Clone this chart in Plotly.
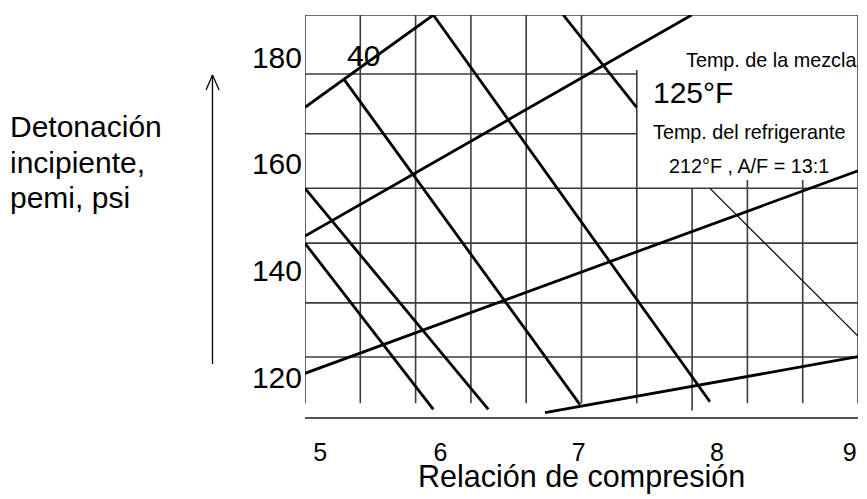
import plotly.graph_objects as go

# ---------------- data ----------------
X_RANGE = [5.0, 9.0]
Y_RANGE = [112.5, 187.875]

X_TICK_VALUES = [5, 6, 7, 8, 9]
X_TICK_TEXT = ["5", "6", "7", "8", "9"]
Y_TICK_VALUES = [120, 140, 160, 180]
Y_TICK_TEXT = ["120", "140", "160", "180"]

# grid (drawn chart lattice)
GRID_X = [5.0, 5.4, 5.8, 6.2, 6.6, 7.0, 7.4, 7.8, 8.2, 8.6, 9.0]
GRID_X_TOP = [187.875, 187.875, 187.875, 187.875, 187.875, 187.875,
              177.56, 155.4, 156.94, 156.94, 187.875]
GRID_X_BOTTOM = [115.1, 115.1, 115.1, 115.1, 115.1, 115.1, 115.1,
                 113.7, 115.1, 115.1, 115.1]
GRID_Y = [187.875, 176.8, 165.6, 155.4, 145.1, 133.9, 123.75]
GRID_Y_RIGHT = [9.0, 7.4, 7.4, 9.0, 9.0, 9.0, 9.0]

# curves (compression ratio, psi)
LINE_A_X = [5.0, 5.928]
LINE_A_Y = [170.57, 187.875]
LINE_B_X = [5.928, 7.929]
LINE_B_Y = [187.875, 115.37]
LINE_C_X = [5.277, 6.989]
LINE_C_Y = [176.0, 114.81]
LINE_D_X = [5.0, 6.326]
LINE_D_Y = [155.38, 113.94]
LINE_E_X = [5.0, 5.928]
LINE_E_Y = [145.07, 113.94]
LINE_F_X = [5.0, 7.797]
LINE_F_Y = [146.44, 187.875]
LINE_G_X = [5.0, 9.0]
LINE_G_Y = [120.69, 158.68]
LINE_H_X = [6.736, 9.0]
LINE_H_Y = [113.31, 123.81]
LINE_J_X = [6.868, 7.399]
LINE_J_Y = [187.875, 170.57]
THIN_LINE_X = [7.929, 9.0]
THIN_LINE_Y = [155.36, 127.69]

FONT = "Liberation Sans, Arial, Helvetica, sans-serif"
GRID_COLOR = "#3c3c3c"

fig = go.Figure()

thick_lines = [
    (LINE_A_X, LINE_A_Y), (LINE_B_X, LINE_B_Y), (LINE_C_X, LINE_C_Y),
    (LINE_D_X, LINE_D_Y), (LINE_E_X, LINE_E_Y), (LINE_F_X, LINE_F_Y),
    (LINE_G_X, LINE_G_Y), (LINE_H_X, LINE_H_Y), (LINE_J_X, LINE_J_Y),
]
for xs, ys in thick_lines:
    fig.add_trace(go.Scatter(x=xs, y=ys, mode="lines",
                             line=dict(color="black", width=2.8),
                             hoverinfo="skip", showlegend=False, cliponaxis=False))
fig.add_trace(go.Scatter(x=THIN_LINE_X, y=THIN_LINE_Y, mode="lines",
                         line=dict(color="black", width=1.2),
                         hoverinfo="skip", showlegend=False, cliponaxis=False))

shapes = []
for gx, top, bot in zip(GRID_X, GRID_X_TOP, GRID_X_BOTTOM):
    shapes.append(dict(type="line", xref="x", yref="y", x0=gx, x1=gx, y0=bot, y1=top,
                       line=dict(color=GRID_COLOR, width=1.6), layer="below"))
for gy, right in zip(GRID_Y, GRID_Y_RIGHT):
    shapes.append(dict(type="line", xref="x", yref="y", x0=X_RANGE[0], x1=right, y0=gy, y1=gy,
                       line=dict(color=GRID_COLOR, width=1.6), layer="below"))

# vertical arrow beside the y axis title
shapes.append(dict(type="line", xref="paper", yref="paper", x0=-0.1673, x1=-0.1673,
                   y0=0.1318, y1=0.8507, line=dict(color="black", width=1.3)))
shapes.append(dict(type="line", xref="paper", yref="paper", x0=-0.179, x1=-0.1673,
                   y0=0.8134, y1=0.8507, line=dict(color="black", width=1.3)))
shapes.append(dict(type="line", xref="paper", yref="paper", x0=-0.1553, x1=-0.1673,
                   y0=0.8134, y1=0.8507, line=dict(color="black", width=1.3)))

annotations = [
    dict(x=5.42, y=180.2, xref="x", yref="y", text="40", showarrow=False,
         font=dict(size=30), xanchor="center", yanchor="middle"),
    dict(x=7.74, y=179.4, xref="x", yref="y", text="Temp. de la mezcla", showarrow=False,
         font=dict(size=19.8), xanchor="left", yanchor="middle"),
    dict(x=7.5, y=173.3, xref="x", yref="y", text="125\u00b0F", showarrow=False,
         font=dict(size=30), xanchor="left", yanchor="middle"),
    dict(x=7.5, y=166.0, xref="x", yref="y", text="Temp. del refrigerante", showarrow=False,
         font=dict(size=19.8), xanchor="left", yanchor="middle"),
    dict(x=7.615, y=159.6, xref="x", yref="y", text="212\u00b0F , A/F = 13:1", showarrow=False,
         font=dict(size=19.8), xanchor="left", yanchor="middle"),
    dict(x=0.5, y=-0.147, xref="paper", yref="paper", text="Relación de compresión",
         showarrow=False, font=dict(size=30.5), xanchor="center", yanchor="middle"),
    dict(x=-0.537, y=0.722, xref="paper", yref="paper", text="Detonación",
         showarrow=False, font=dict(size=30), xanchor="left", yanchor="middle"),
    dict(x=-0.537, y=0.632, xref="paper", yref="paper", text="incipiente,",
         showarrow=False, font=dict(size=30), xanchor="left", yanchor="middle"),
    dict(x=-0.537, y=0.545, xref="paper", yref="paper", text="pemi, psi",
         showarrow=False, font=dict(size=30), xanchor="left", yanchor="middle"),
]

x_label_pos = [v + d for v, d in zip(X_TICK_VALUES, [0.11, -0.02, -0.02, -0.02, -0.06])]

# the page body adds an 8 px offset, so the figure is sized to fill the rest of the window
fig.update_layout(
    width=859, height=491,
    margin=dict(l=297, r=9, t=7, b=82),
    paper_bgcolor="white", plot_bgcolor="white",
    font=dict(family=FONT, color="black"),
    shapes=shapes, annotations=annotations,
    showlegend=False,
    xaxis=dict(range=X_RANGE, showgrid=False, zeroline=False,
               showline=True, linecolor="#555555", linewidth=2,
               tickvals=x_label_pos, ticktext=X_TICK_TEXT, ticks="",
               tickfont=dict(size=25), ticklabelstandoff=12, fixedrange=True,
               automargin=False),
    yaxis=dict(range=Y_RANGE, showgrid=False, zeroline=False, showline=False,
               tickvals=Y_TICK_VALUES, ticktext=Y_TICK_TEXT, ticks="",
               tickfont=dict(size=30), ticklabelstandoff=2, fixedrange=True,
               automargin=False),
)

fig.write_html("out.html")
